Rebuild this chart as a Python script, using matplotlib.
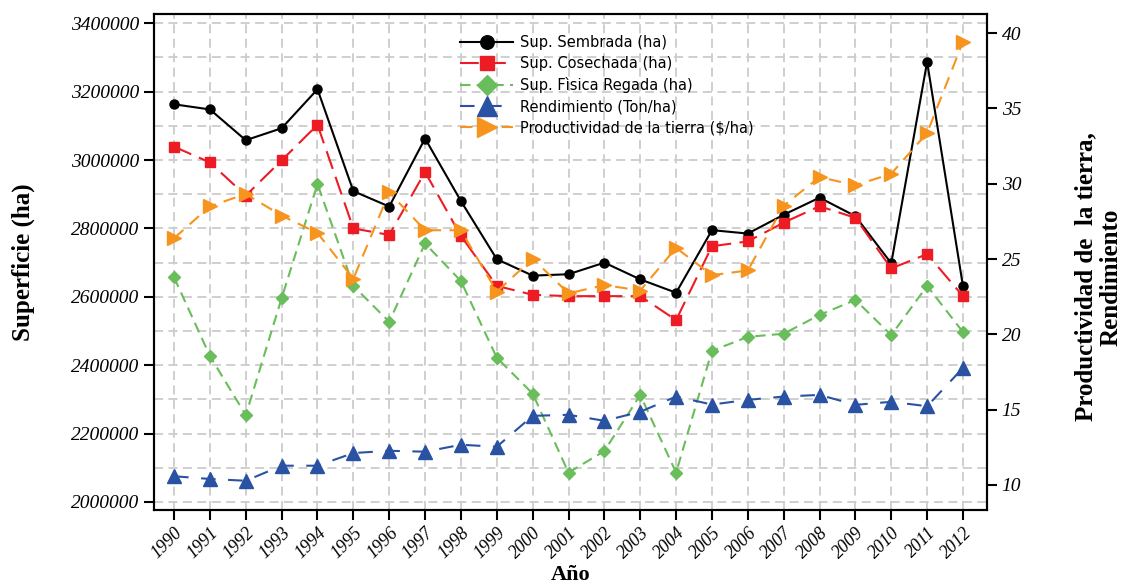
import matplotlib
matplotlib.use("Agg")
from matplotlib import pyplot as plt
from matplotlib.ticker import MultipleLocator, FuncFormatter

# datos
anios = list(range(1990, 2013))

sup_sembrada = [3163000, 3148000, 3058000, 3093000, 3207000, 2909000, 2864000, 3063000,
                2880000, 2710000, 2662000, 2666000, 2700000, 2651000, 2612000, 2795000,
                2785000, 2840000, 2890000, 2836000, 2698000, 3287000, 2631000]

sup_cosechada = [3039000, 2993000, 2896000, 2999000, 3103000, 2800000, 2781000, 2965000,
                 2778000, 2632000, 2606000, 2602000, 2602000, 2602000, 2532000, 2748000,
                 2762000, 2817000, 2865000, 2831000, 2683000, 2725000, 2602000]

sup_regada = [2657000, 2427000, 2254000, 2596000, 2930000, 2632000, 2527000, 2756000,
              2646000, 2422000, 2317000, 2086000, 2149000, 2313000, 2086000, 2442000,
              2483000, 2492000, 2547000, 2591000, 2488000, 2632000, 2497000]

rendimiento = [10.58, 10.40, 10.28, 11.28, 11.28, 12.12, 12.27, 12.21, 12.67, 12.54,
               14.59, 14.66, 14.26, 14.86, 15.87, 15.34, 15.65, 15.87, 15.98, 15.32,
               15.52, 15.23, 17.77]

productividad = [26.38, 28.50, 29.32, 27.88, 26.73, 23.69, 29.42, 26.91, 26.91, 22.83,
                 25.03, 22.72, 23.27, 22.91, 25.74, 23.93, 24.24, 28.54, 30.44, 29.89,
                 30.66, 33.36, 39.42]

serif = ["Liberation Serif", "DejaVu Serif"]

fig = plt.figure(figsize=(11.28, 5.86), dpi=100)
ax = fig.add_axes([0.1365, 0.1297, 0.875 - 0.1365, 0.976 - 0.1297])
ax2 = ax.twinx()

# ejes y rejilla
ax.set_xlim(1989.44, 2012.67)
ax.set_ylim(1976600, 3426900)
ax2.set_ylim(8.34, 41.26)

ax.set_xticks(anios)
ax.yaxis.set_major_locator(MultipleLocator(200000))
ax.yaxis.set_minor_locator(MultipleLocator(100000))
ax.yaxis.set_major_formatter(FuncFormatter(lambda v, p: "%d" % v))
ax2.yaxis.set_major_locator(MultipleLocator(5))
ax2.yaxis.set_major_formatter(FuncFormatter(lambda v, p: "%d" % v))

ax.grid(True, which="both", axis="y", color="#cccccc", linestyle=(0, (5, 3)), linewidth=1.3)
ax.grid(True, which="major", axis="x", color="#cccccc", linestyle=(0, (5, 3)), linewidth=1.3)
ax.tick_params(axis="y", which="minor", length=0)
ax.set_axisbelow(True)

for a in (ax, ax2):
    for s in a.spines.values():
        s.set_linewidth(1.5)
    a.tick_params(which="major", direction="out", length=7, width=1.5)

# series en hectareas
ax.plot(anios, sup_sembrada, color="black", lw=1.5, marker="o", ms=6.5,
        label="Sup. Sembrada (ha)")
ax.plot(anios, sup_cosechada, color="#ed1c24", lw=1.5, dashes=(9, 4), marker="s", ms=6.5,
        label="Sup. Cosechada (ha)")
ax.plot(anios, sup_regada, color="#6abd5b", lw=1.5, dashes=(5, 3), marker="D", ms=6.5,
        label="Sup. Fìsica Regada (ha)")

# series eje derecho
ax2.plot(anios, rendimiento, color="#2a52a3", lw=1.5, dashes=(7, 6), marker="^", ms=9.5,
         label="Rendimiento (Ton/ha)")
ax2.plot(anios, productividad, color="#f7941d", lw=1.5, dashes=(6, 4), marker=">", ms=10,
         label="Productividad de la tierra ($/ha)")

# etiquetas
ax.tick_params(axis="y", labelsize=14, labelfontfamily="Liberation Serif")
ax2.tick_params(axis="y", labelsize=14, labelfontfamily="Liberation Serif")
fig.canvas.draw()
for lab in ax.get_yticklabels() + ax2.get_yticklabels():
    lab.set_fontstyle("italic")
ax.set_xticklabels([str(a) for a in anios], rotation=45, ha="right", va="top",
                   rotation_mode="anchor", fontfamily=serif, fontstyle="italic", fontsize=13)

ax.set_ylabel("Superficie (ha)", fontfamily=serif, fontweight="bold", fontsize=18)
ax.yaxis.set_label_coords(-0.143, 0.5)
ax.set_xlabel("Año", fontfamily=serif, fontweight="bold", fontsize=16, va="center")
ax.xaxis.set_label_coords(0.5, -0.131)
ax2.set_ylabel("Productividad de  la tierra,\nRendimiento", fontfamily=serif,
               fontweight="bold", fontsize=18, linespacing=1.15, va="center",
               rotation=90)
ax2.yaxis.set_label_coords(1.134, 0.47)

h1, l1 = ax.get_legend_handles_labels()
h2, l2 = ax2.get_legend_handles_labels()
ax2.legend(h1 + h2, l1 + l2, loc="upper left", bbox_to_anchor=(0.352, 0.985), frameon=False,
           fontsize=10.5, markerscale=1.5, handlelength=3.6, labelspacing=0.42,
           handletextpad=0.5)

fig.savefig("out.png", dpi=100)
